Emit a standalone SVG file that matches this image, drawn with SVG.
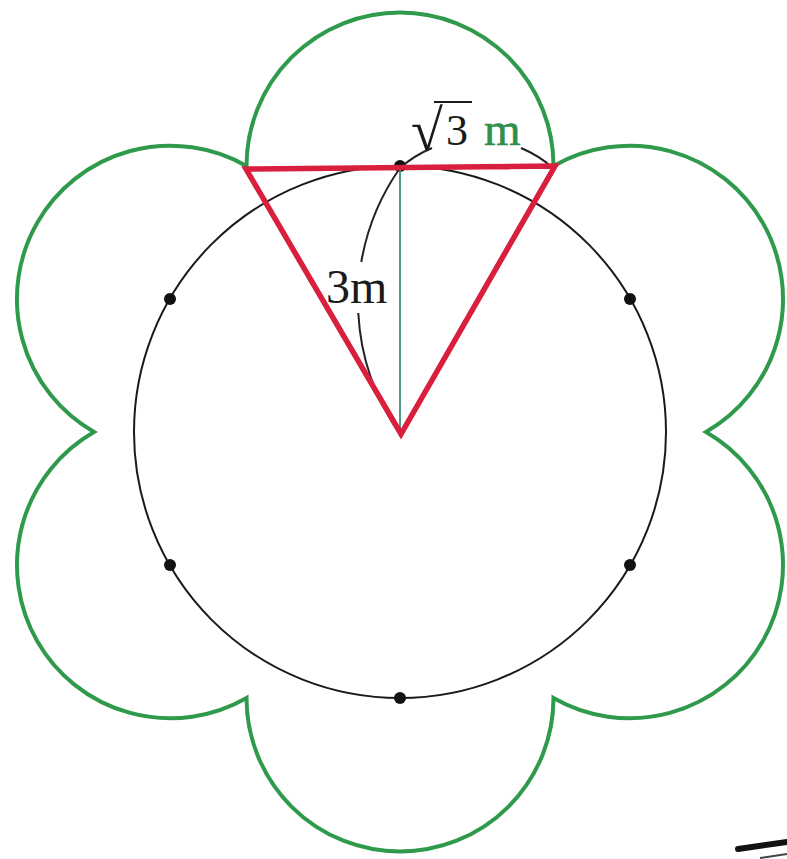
<svg xmlns="http://www.w3.org/2000/svg" width="787" height="859" viewBox="0 0 787 859">
<style>
.petal{fill:none;stroke:#2f9a4c;stroke-width:4;stroke-linejoin:miter}
.circ{fill:none;stroke:#1a1a1a;stroke-width:2}
.dot{fill:#111}
.tri{fill:none;stroke:#d81f3d;stroke-width:5.5;stroke-linejoin:miter}
.dim{fill:none;stroke:#222;stroke-width:2}
.axis{stroke:#4e9a86;stroke-width:2}
.lbl{font-family:"Liberation Serif","DejaVu Serif",serif;font-size:44px;fill:#1a1a1a}
</style>
<rect width="787" height="859" fill="#ffffff"/>
<g id="flower">
<path class="petal" d="M246.5,166 A153,153 0 0 1 553.5,166 A153,153 0 0 1 706,432 A153,153 0 0 1 553.5,698 A153,153 0 0 1 246.5,698 A153,153 0 0 1 94,432 A153,153 0 0 1 246.5,166 Z"/>
</g>
<g id="circle">
<circle class="circ" cx="400" cy="432" r="266"/>
<circle class="dot" cx="400" cy="166" r="6"/>
<circle class="dot" cx="170" cy="299" r="6"/>
<circle class="dot" cx="630" cy="299" r="6"/>
<circle class="dot" cx="170" cy="565" r="6"/>
<circle class="dot" cx="630" cy="565" r="6"/>
<circle class="dot" cx="400" cy="698" r="6"/>
</g>
<g id="connectors">
<line class="axis" x1="400" y1="169" x2="400" y2="433"/>
<path class="dim" d="M400,168 A231.6,231.6 0 0 0 361.3,262"/>
<path class="dim" d="M358.3,313 A231.6,231.6 0 0 0 400,434"/>
<path class="dim" d="M400,168 A115.7,115.7 0 0 1 432,148"/>
<path class="dim" d="M521,148 A115.7,115.7 0 0 1 553,168"/>
</g>
<g id="triangle">
<path class="tri" d="M246,169 L555,166 L401,434 Z"/>
</g>
<g id="label-3m">
<text class="lbl" x="326" y="303" style="font-size:48px">3m</text>
</g>
<g id="label-sqrt3m">
<text class="lbl" x="411" y="150" style="font-size:58px">√</text>
<line x1="434" y1="102" x2="472" y2="102" stroke="#1a1a1a" stroke-width="2"/>
<text class="lbl" x="446" y="145">3</text>
<text class="lbl" x="484" y="145" style="font-size:47px;fill:#2f8f4c;stroke:#2f8f4c;stroke-width:0.6">m</text>
</g>
<g id="marks">
<path d="M738,849 L787,842" stroke="#111" stroke-width="6" stroke-linecap="round"/>
<path d="M760,858 L787,854" stroke="#444" stroke-width="2"/>
</g>
</svg>
